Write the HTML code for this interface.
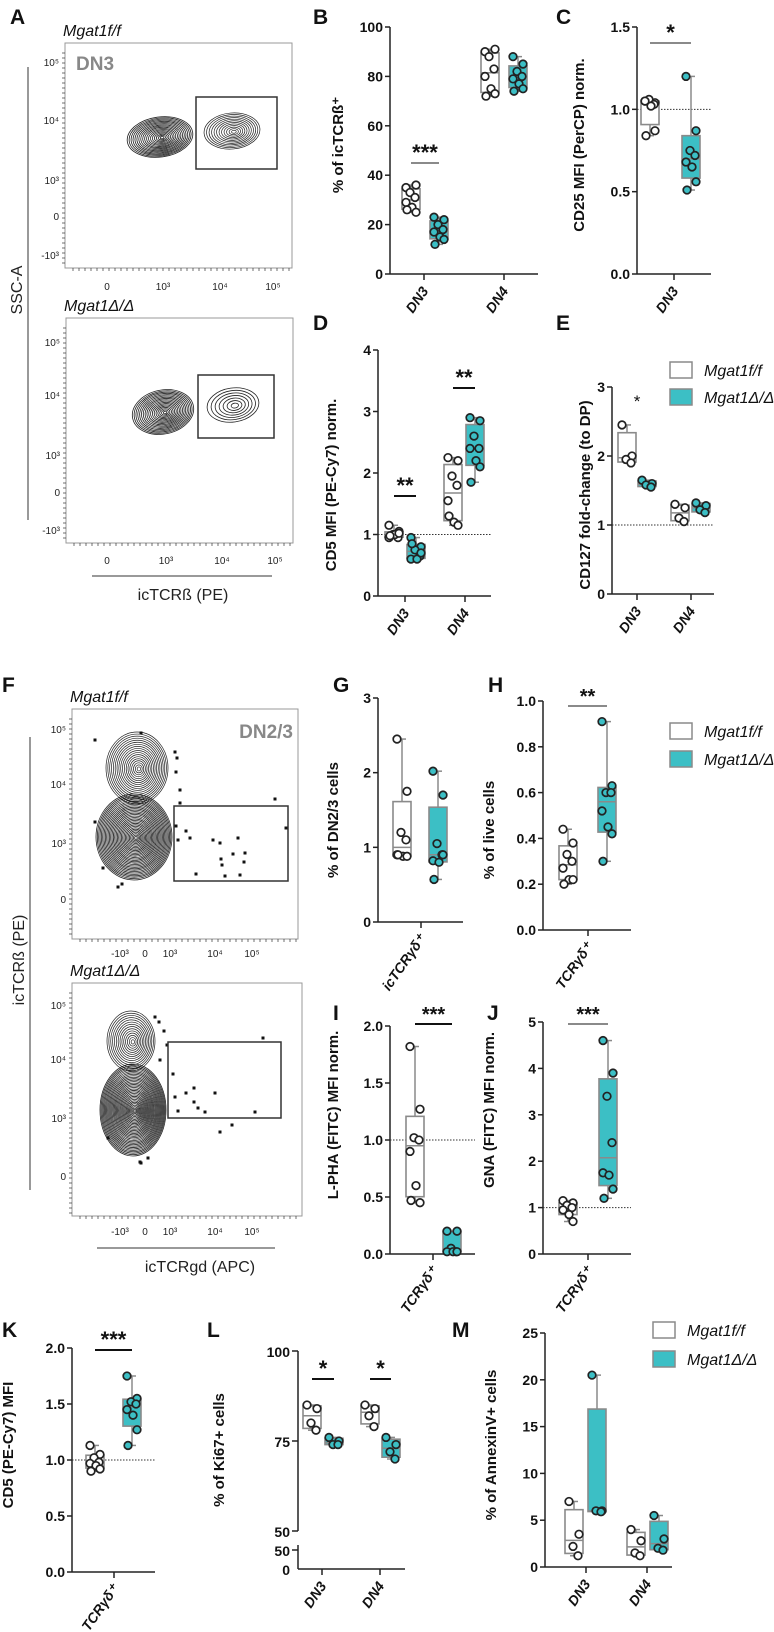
<!DOCTYPE html>
<html><head><meta charset="utf-8">
<style>
html,body{margin:0;padding:0;background:#fff;}
svg{display:block;font-family:"Liberation Sans",sans-serif;}
.tl{font-family:"Liberation Sans",sans-serif;font-weight:bold;font-size:14px;fill:#111;}
.ttl{font-weight:bold;font-size:15px;fill:#111;}
.let{font-weight:bold;font-size:21px;fill:#111;font-family:"Liberation Sans",sans-serif;}
.it{font-style:italic;font-size:16px;fill:#111;font-family:"Liberation Sans",sans-serif;}
.fl{font-size:10px;fill:#222;}
</style></head>
<body>
<svg id="fig" width="774" height="1632" viewBox="0 0 774 1632" xmlns="http://www.w3.org/2000/svg"></svg>
<script>
// ---------- DATA ----------
const B_categories=["DN3","DN4"];
const B_ff_DN3=[35,36,33,31,29,27,25,26];
const B_ko_DN3=[23,22,20,18,17,15,14,12];
const B_ff_DN4=[90,91,88,83,80,75,73,72];
const B_ko_DN4=[88,85,82,80,79,77,75,74];
const B_ticks=[0,20,40,60,80,100];
const C_categories=["DN3"];
const C_ff_DN3=[1.05,1.04,1.06,1.03,1.05,1.02,0.87,0.84];
const C_ko_DN3=[1.2,0.87,0.75,0.72,0.68,0.65,0.56,0.51];
const C_ticks=[0,0.5,1.0,1.5];
const D_categories=["DN3","DN4"];
const D_ff_DN3=[1.15,1.05,1.0,0.95,0.95,1.0,1.02,0.98];
const D_ko_DN3=[0.95,0.8,0.75,0.65,0.6,0.6,0.7,0.85];
const D_ff_DN4=[2.25,2.2,1.95,1.8,1.55,1.2,1.15,1.3];
const D_ko_DN4=[2.9,2.85,2.6,2.4,2.4,2.2,2.1,1.85];
const D_ticks=[0,1,2,3,4];
const E_categories=["DN3","DN4"];
const E_ff_DN3=[2.45,2.0,1.95,1.9];
const E_ko_DN3=[1.65,1.6,1.58,1.55];
const E_ff_DN4=[1.3,1.25,1.1,1.05];
const E_ko_DN4=[1.32,1.28,1.22,1.18];
const E_ticks=[0,1,2,3];
const G_categories=["icTCRγδ⁺"];
const G_ff=[2.45,1.75,1.2,1.1,0.9,0.88,0.88,0.9];
const G_ko=[2.02,1.7,1.05,0.9,0.82,0.8,0.9,0.57];
const G_ticks=[0,1,2,3];
const H_categories=["TCRγδ⁺"];
const H_ff=[0.44,0.38,0.33,0.3,0.27,0.22,0.22,0.2];
const H_ko=[0.91,0.63,0.6,0.6,0.52,0.45,0.42,0.3];
const H_ticks=[0,0.2,0.4,0.6,0.8,1.0];
const I_categories=["TCRγδ⁺"];
const I_ff=[1.82,1.27,1.02,1.0,0.9,0.6,0.45,0.47];
const I_ko=[0.2,0.2,0.05,0.02,0.02,0.02,0.02];
const I_ticks=[0,0.5,1.0,1.5,2.0];
const J_categories=["TCRγδ⁺"];
const J_ff=[1.15,1.1,1.05,1.0,0.95,0.85,0.7];
const J_ko=[4.6,3.9,3.4,2.4,1.75,1.7,1.4,1.2];
const J_ticks=[0,1,2,3,4,5];
const K_categories=["TCRγδ⁺"];
const K_ff=[1.13,1.05,1.02,0.98,0.97,0.95,0.92,0.9];
const K_ko=[1.75,1.55,1.52,1.5,1.45,1.4,1.27,1.13];
const K_ticks=[0,0.5,1.0,1.5,2.0];
const L_categories=["DN3","DN4"];
const L_ff_DN3=[85,84,80,78];
const L_ko_DN3=[76,75,74,74];
const L_ff_DN4=[85,84,82,79];
const L_ko_DN4=[76,74,72,70];
const L_ticks=[50,75,100];
const M_categories=["DN3","DN4"];
const M_ff_DN3=[7,3.5,2.2,1.2];
const M_ko_DN3=[20.5,6,6,5.9];
const M_ff_DN4=[4,2.8,1.5,1.2];
const M_ko_DN4=[5.5,3,2,1.8];
const M_ticks=[0,5,10,15,20,25];

// ---------- helpers ----------
const NS="http://www.w3.org/2000/svg";
const svg=document.getElementById('fig');
function el(tag,attrs,parent,txt){const e=document.createElementNS(NS,tag);for(const k in attrs)e.setAttribute(k,attrs[k]);if(txt!==undefined)e.textContent=txt;(parent||svg).appendChild(e);return e;}
function grp(name){const g=el('g',{});return g;}
function q(arr,p){const s=[...arr].sort((a,b)=>a-b);const n=s.length;let pos=(n+1)*p;pos=Math.min(Math.max(pos,1),n);const lo=Math.floor(pos),hi=Math.ceil(pos);return s[lo-1]+(s[hi-1]-s[lo-1])*(pos-lo);}
const TEAL="#3cbfc5",GREY="#8a8a8a";
const JIT=[-5,5,-1,4,-5,1,5,-4,0];

function boxGroup(g,x,vals,sc,ko,name){
  const bw=18;
  const mn=Math.min(...vals),mx=Math.max(...vals),q1=q(vals,0.25),q3=q(vals,0.75),md=q(vals,0.5);
  const bg=el('g',{},g);
  const w=el('line',{x1:x,x2:x,y1:sc(mx),y2:sc(mn),stroke:GREY,'stroke-width':1.5},bg);
  
  [mx,mn].forEach(v=>{el('line',{x1:x-4,x2:x+4,y1:sc(v),y2:sc(v),stroke:GREY,'stroke-width':1.5},bg);});
  const r=el('rect',{x:x-bw/2,y:sc(q3),width:bw,height:Math.max(1,sc(q1)-sc(q3)),fill:ko?TEAL:"#fff",stroke:GREY,'stroke-width':1.6},bg);
  
  el('line',{x1:x-bw/2,x2:x+bw/2,y1:sc(md),y2:sc(md),stroke:GREY,'stroke-width':1.5},bg);
  vals.forEach((v,i)=>{const c=el('circle',{cx:x+JIT[i%JIT.length],cy:sc(v),r:3.8,fill:ko?TEAL:"#fff",stroke:"#222",'stroke-width':1.7},bg);
    });
}

function panel(p){
  const g=grp(p.name);
  const sc=v=>p.yb+(v-p.min)/(p.max-p.min)*(p.yt-p.yb);
  const ya=el('line',{x1:p.ax,x2:p.ax,y1:p.yt,y2:p.yb,stroke:"#222",'stroke-width':1.5},g);
  
  p.ticks.forEach(t=>{el('line',{x1:p.ax-5,x2:p.ax,y1:sc(t),y2:sc(t),stroke:"#222",'stroke-width':1.5},g);
    const tx=el('text',{x:p.ax-7,y:sc(t)+5,'text-anchor':'end',class:'tl','font-size':p.tkfs||14},g,(p.fmt?p.fmt(t):t));
    });
  const xa=el('line',{x1:p.ax,x2:p.xe,y1:p.yb,y2:p.yb,stroke:"#222",'stroke-width':1.5},g);
  
  if(p.dotted!==undefined){el('line',{x1:p.ax,x2:p.xe,y1:sc(p.dotted),y2:sc(p.dotted),stroke:"#333",'stroke-width':1,'stroke-dasharray':'1.5,1.5'},g);}
  p.cats.forEach((c,i)=>{
    el('line',{x1:c.tick,x2:c.tick,y1:p.yb,y2:p.yb+6,stroke:"#222",'stroke-width':1.5},g);
    const t=el('text',{x:c.tick+5,y:p.yb+17,'text-anchor':'end',class:'tl','font-style':'italic','font-size':p.cfs||14,transform:`rotate(-55 ${c.tick+5} ${p.yb+17})`},g,c.label);
    
    boxGroup(g,c.fx,c.ff,sc,false,'box-ff-'+i);
    boxGroup(g,c.kx,c.ko,sc,true,'box-ko-'+i);
    if(c.sig){
      const sl=el('line',{x1:c.fx,x2:c.kx,y1:c.sig[1],y2:c.sig[1],stroke:c.sig[3]||GREY,'stroke-width':2},g);
      
      const st=el('text',{x:(c.fx+c.kx)/2,y:c.sig[1]-3,'text-anchor':'middle','font-weight':'bold','font-size':c.sig[2]||20,fill:'#111'},g,c.sig[0]);
      
    }
  });
  const yt=el('text',{x:p.tx,y:p.ty,'text-anchor':'middle',class:'ttl','font-size':p.tfs||15,transform:`rotate(-90 ${p.tx} ${p.ty})`},g,p.title);
  
  return {g,sc};
}

// ---------- letters ----------
[["A",10,24],["B",313,24],["C",556,24],["D",313,330],["E",556,330],["F",2,692],["G",333,692],["H",488,692],["I",333,1020],["J",487,1020],["K",2,1337],["L",207,1337],["M",452,1337]].forEach(a=>{
  const t=el('text',{x:a[1],y:a[2],class:'let'},svg,a[0]);});

// ---------- box panels ----------
panel({name:'panel-b',ax:390,xe:538,yt:27,yb:274,min:0,max:100,ticks:B_ticks,title:'% of icTCRß⁺',tx:343,ty:145,
 cats:[{label:B_categories[0],tick:424,fx:411,kx:439,ff:B_ff_DN3,ko:B_ko_DN3,sig:['***',163,22]},
       {label:B_categories[1],tick:504,fx:490,kx:518,ff:B_ff_DN4,ko:B_ko_DN4}]});
panel({name:'panel-c',ax:637,xe:711,yt:27,yb:274,min:0,max:1.5,ticks:C_ticks,fmt:v=>v.toFixed(1),dotted:1,title:'CD25 MFI (PerCP) norm.',tx:584,ty:145,
 cats:[{label:C_categories[0],tick:674,fx:650,kx:691,ff:C_ff_DN3,ko:C_ko_DN3,sig:['*',43,22]}]});
panel({name:'panel-d',ax:378,xe:491,yt:350,yb:596,min:0,max:4,ticks:D_ticks,dotted:1,title:'CD5 MFI (PE-Cy7) norm.',tx:336,ty:485,
 cats:[{label:D_categories[0],tick:405,fx:394,kx:416,ff:D_ff_DN3,ko:D_ko_DN3,sig:['**',496,22,'#111']},
       {label:D_categories[1],tick:465,fx:453,kx:475,ff:D_ff_DN4,ko:D_ko_DN4,sig:['**',388,22,'#111']}]});
panel({name:'panel-e',ax:612,xe:714,yt:387,yb:594,min:0,max:3,ticks:E_ticks,dotted:1,title:'CD127 fold-change (to DP)',tx:590,ty:495,
 cats:[{label:E_categories[0],tick:637,fx:627,kx:647,ff:E_ff_DN3,ko:E_ko_DN3},
       {label:E_categories[1],tick:691,fx:680,kx:701,ff:E_ff_DN4,ko:E_ko_DN4}]});
el('text',{x:637,y:407,'text-anchor':'middle','font-size':17,fill:'#111'},svg,'*');
panel({name:'panel-g',ax:378,xe:463,yt:698,yb:922,min:0,max:3,ticks:G_ticks,title:'% of DN2/3 cells',tx:338,ty:820,
 cats:[{label:G_categories[0],tick:421,fx:402,kx:438,ff:G_ff,ko:G_ko}]});
panel({name:'panel-h',ax:543,xe:631,yt:701,yb:930,min:0,max:1,ticks:H_ticks,fmt:v=>v.toFixed(1),title:'% of live cells',tx:494,ty:830,
 cats:[{label:H_categories[0],tick:588,fx:568,kx:607,ff:H_ff,ko:H_ko,sig:['**',706,20]}]});
panel({name:'panel-i',ax:390,xe:475,yt:1026,yb:1254,min:0,max:2,ticks:I_ticks,fmt:v=>v.toFixed(1),dotted:1,title:'L-PHA (FITC) MFI norm.',tx:338,ty:1115,
 cats:[{label:I_categories[0],tick:433,fx:415,kx:452,ff:I_ff,ko:I_ko,sig:['***',1024,20,'#111']}]});
panel({name:'panel-j',ax:543,xe:631,yt:1022,yb:1254,min:0,max:5,ticks:J_ticks,dotted:1,title:'GNA (FITC) MFI norm.',tx:494,ty:1110,
 cats:[{label:J_categories[0],tick:588,fx:568,kx:608,ff:J_ff,ko:J_ko,sig:['***',1024,20]}]});
panel({name:'panel-k',ax:72,xe:155,yt:1348,yb:1572,min:0,max:2,ticks:K_ticks,fmt:v=>v.toFixed(1),dotted:1,title:'CD5 (PE-Cy7) MFI',tfs:12,tx:13,ty:1445,
 cats:[{label:K_categories[0],tick:114,fx:95,kx:132,ff:K_ff,ko:K_ko,sig:['***',1350,22,'#111']}]});

// panel L (broken axis)
(function(){
  const g=grp('panel-l');
  const sc=v=>1531+(v-50)/(100-50)*(1351-1531);
  el('line',{x1:298,x2:298,y1:1351,y2:1531,stroke:'#222','stroke-width':1.5},g);
  el('line',{x1:298,x2:298,y1:1545,y2:1569,stroke:'#222','stroke-width':1.5},g);
  L_ticks.forEach(t=>{el('line',{x1:292,x2:298,y1:sc(t),y2:sc(t),stroke:'#222','stroke-width':1.5},g);
    el('text',{x:290,y:sc(t)+6,'text-anchor':'end',class:'tl','font-size':16},g,t);});
  el('line',{x1:292,x2:298,y1:1550,y2:1550,stroke:'#222','stroke-width':1.5},g);
  el('text',{x:290,y:1556,'text-anchor':'end',class:'tl','font-size':16},g,'50');
  el('text',{x:290,y:1575,'text-anchor':'end',class:'tl','font-size':16},g,'0');
  el('line',{x1:298,x2:405,y1:1569,y2:1569,stroke:'#222','stroke-width':1.5},g);
  const cats=[[L_categories[0],322,312,334,L_ff_DN3,L_ko_DN3],[L_categories[1],380,370,391,L_ff_DN4,L_ko_DN4]];
  cats.forEach((c,i)=>{
    el('line',{x1:c[1],x2:c[1],y1:1569,y2:1575,stroke:'#222','stroke-width':1.5},g);
    el('text',{x:c[1]+5,y:1586,'text-anchor':'end',class:'tl','font-style':'italic','font-size':16,transform:`rotate(-55 ${c[1]+5} 1586)`},g,c[0]);
    boxGroup(g,c[2],c[4],sc,false,'box-ff-'+i);boxGroup(g,c[3],c[5],sc,true,'box-ko-'+i);
    el('line',{x1:c[2],x2:c[3],y1:1379,y2:1379,stroke:'#111','stroke-width':2},g);
    el('text',{x:(c[2]+c[3])/2,y:1376,'text-anchor':'middle','font-weight':'bold','font-size':22,fill:'#111'},g,'*');
  });
  el('text',{x:224,y:1450,'text-anchor':'middle',class:'ttl','font-size':17,transform:'rotate(-90 224 1450)'},g,'% of Ki67+ cells');
})();
panel({name:'panel-m',ax:545,xe:672,yt:1333,yb:1567,min:0,max:25,ticks:M_ticks,tkfs:16,cfs:16,title:'% of AnnexinV+ cells',tfs:18,tx:496,ty:1445,
 cats:[{label:M_categories[0],tick:586,fx:574,kx:597,ff:M_ff_DN3,ko:M_ko_DN3},
       {label:M_categories[1],tick:647,fx:636,kx:659,ff:M_ff_DN4,ko:M_ko_DN4}]});

// ---------- legends ----------
function legend(x,y1,y2,name){
  const g=grp(name);
  el('rect',{x:x,y:y1-8,width:22,height:16,fill:'#fff',stroke:GREY,'stroke-width':1.5},g);
  el('text',{x:x+34,y:y1+6,class:'it'},g,'Mgat1f/f');
  el('rect',{x:x,y:y2-8,width:22,height:16,fill:TEAL,stroke:GREY,'stroke-width':1.5},g);
  el('text',{x:x+34,y:y2+6,class:'it'},g,'Mgat1Δ/Δ');
}
legend(670,370,397,'legend-top');legend(670,731,759,'legend-middle');legend(653,1330,1359,'legend-bottom');

// ---------- flow plots ----------
function ellipses(g,cx,cy,rx,ry,n,rot,w){
  for(let i=0;i<n;i++){const f=1-i/n;el('ellipse',{cx:cx+(1-f)*2,cy:cy+(1-f)*1,rx:rx*f,ry:ry*f,fill:'none',stroke:'#222','stroke-width':w||0.6,transform:`rotate(${rot||0} ${cx} ${cy})`},g);}
}
function flow(p){
  const g=grp(p.name);
  el('rect',{x:p.x0,y:p.y0,width:p.x1-p.x0,height:p.y1-p.y0,fill:'#fff',stroke:'#999','stroke-width':1},g);
  for(let x=p.x0+8;x<p.x1;x+=6)el('line',{x1:x,x2:x,y1:p.y1,y2:p.y1+3,stroke:'#333','stroke-width':0.7},g);
  for(let y=p.y0+10;y<p.y1;y+=5)el('line',{x1:p.x0-3,x2:p.x0,y1:y,y2:y,stroke:'#333','stroke-width':0.7},g);
  p.yl.forEach(l=>{el('text',{x:p.x0-6,y:l[1]+4,'text-anchor':'end',class:'fl'},g,l[0]);});
  p.xl.forEach(l=>{el('text',{x:l[1],y:p.xly,'text-anchor':'middle',class:'fl'},g,l[0]);});
  p.blobs.forEach(b=>ellipses(g,b[0],b[1],b[2],b[3],b[4],b[5],b[6]));
  (p.dots||[]).forEach(d=>el('rect',{x:d[0]-1.5,y:d[1]-1.5,width:3,height:3,fill:'#111'},g));
  const gt=el('rect',{x:p.gate[0],y:p.gate[1],width:p.gate[2]-p.gate[0],height:p.gate[3]-p.gate[1],fill:'none',stroke:'#333','stroke-width':1.5},g);
  
  el('text',{x:p.x0-2,y:p.y0-7,class:'it'},g,p.title);
  if(p.label)el('text',{x:p.label[1],y:p.label[2],'text-anchor':p.label[3]||'start','font-weight':'bold','font-size':19,fill:'#888'},g,p.label[0]);
}
flow({name:'flow-a-top',x0:65,x1:292,y0:43,y1:268,title:'Mgat1f/f',label:['DN3',76,70],
 yl:[["10⁵",62],["10⁴",120],["10³",180],["0",216],["-10³",255]],xl:[["0",107],["10³",163],["10⁴",220],["10⁵",273]],xly:290,
 blobs:[[160,137,33,20,18,-8,0.8],[232,131,28,18,12,-5,0.7]],gate:[196,97,277,169]});
flow({name:'flow-a-bottom',x0:66,x1:293,y0:318,y1:543,title:'Mgat1Δ/Δ',
 yl:[["10⁵",342],["10⁴",395],["10³",455],["0",492],["-10³",530]],xl:[["0",107],["10³",166],["10⁴",222],["10⁵",275]],xly:564,
 blobs:[[163,412,31,22,18,-12,0.8],[233,405,26,17,7,-8,0.8]],gate:[198,375,274,438]});
flow({name:'flow-f-top',x0:72,x1:298,y0:709,y1:939,title:'Mgat1f/f',label:['DN2/3',293,738,'end'],
 yl:[["10⁵",729],["10⁴",784],["10³",843],["0",899]],xl:[["-10³",120],["0",145],["10³",170],["10⁴",215],["10⁵",252]],xly:957,
 blobs:[[137,768,31,36,18,0,0.7],[134,837,38,43,30,0,0.8]],gate:[174,806,288,881],
 dots:[[95,740],[141,733],[175,752],[177,758],[176,772],[180,790],[180,803],[176,826],[178,840],[186,831],[190,838],[213,840],[220,843],[221,859],[222,865],[238,838],[244,862],[233,854],[245,853],[225,876],[240,875],[196,874],[275,799],[286,828],[95,822],[103,868],[118,887],[122,884]]});
flow({name:'flow-f-bottom',x0:72,x1:302,y0:983,y1:1216,title:'Mgat1Δ/Δ',
 yl:[["10⁵",1005],["10⁴",1059],["10³",1118],["0",1176]],xl:[["-10³",120],["0",145],["10³",170],["10⁴",215],["10⁵",252]],xly:1235,
 blobs:[[131,1041,24,30,14,0,0.7],[133,1110,33,46,32,0,0.8]],gate:[168,1042,281,1118],
 dots:[[155,1017],[159,1022],[164,1031],[167,1045],[160,1060],[173,1074],[175,1097],[186,1093],[194,1102],[194,1088],[198,1108],[205,1112],[215,1093],[220,1132],[232,1125],[255,1112],[263,1038],[108,1138],[140,1162],[148,1158],[141,1163],[178,1111]]});
[[28,67,28,520],[30,737,30,1190]].forEach(l=>el('line',{x1:l[0],x2:l[2],y1:l[1],y2:l[3],stroke:'#333','stroke-width':1}));
el('line',{x1:92,x2:272,y1:576,y2:576,stroke:'#333','stroke-width':1});
el('line',{x1:97,x2:275,y1:1248,y2:1248,stroke:'#333','stroke-width':1});
el('text',{x:183,y:600,'text-anchor':'middle','font-size':16,fill:'#222'},svg,'icTCRß (PE)');
el('text',{x:200,y:1272,'text-anchor':'middle','font-size':16,fill:'#222'},svg,'icTCRgd (APC)');
el('text',{x:22,y:290,'text-anchor':'middle','font-size':16,fill:'#222',transform:'rotate(-90 22 290)'},svg,'SSC-A');
el('text',{x:24,y:960,'text-anchor':'middle','font-size':16,fill:'#222',transform:'rotate(-90 24 960)'},svg,'icTCRß (PE)');
</script>
</body></html>
